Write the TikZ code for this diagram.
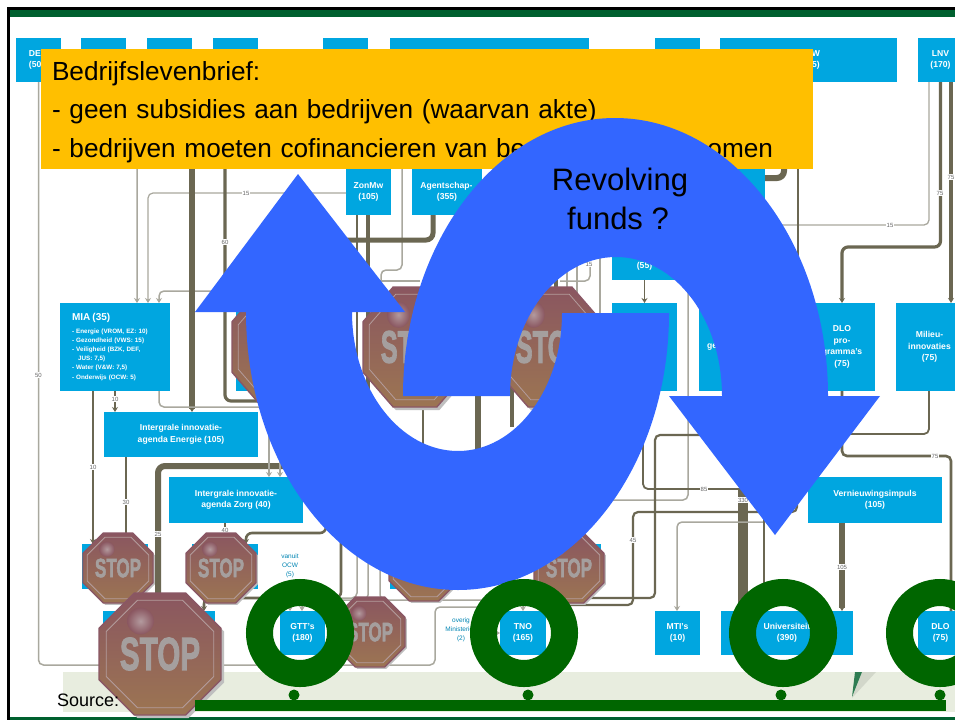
\documentclass[tikz,border=0pt]{standalone}
\usepackage{fontspec}
\setmainfont{Liberation Sans}
\newfontfamily\stopfont[BoldFeatures={FakeBold=2.5}]{Liberation Sans}
\usetikzlibrary{arrows.meta}
\definecolor{cBox}{HTML}{00A6E0}
\definecolor{cDark}{HTML}{6B6752}
\definecolor{cPale}{HTML}{A9A89E}
\definecolor{cOrange}{HTML}{FFBF00}
\definecolor{cBlue}{HTML}{3366FF}
\definecolor{cRing}{HTML}{006600}
\definecolor{cBar}{HTML}{00602F}
\definecolor{cStrip}{HTML}{E8EDDF}
\definecolor{cStopTop}{HTML}{8A5660}
\definecolor{cStopMid}{HTML}{95615A}
\definecolor{cStopLow}{HTML}{9C7552}
\definecolor{cStopRim}{HTML}{8A5765}
\definecolor{cStopLine}{HTML}{B39C9C}
\definecolor{cStopText}{HTML}{A59F9E}
\definecolor{cStopSpot}{HTML}{B39A9E}
\tikzset{
  cbox/.style={fill=cBox,text=white,font=\fontsize{8.6}{11.5}\selectfont\bfseries,align=center,inner sep=0pt,outer sep=0pt,anchor=north west},
  cLite/.style={draw=cPale,line width=1.5pt,rounded corners=5pt},
  cThin/.style={draw=cDark,line width=1.8pt,rounded corners=5pt},
  cMed/.style={draw=cDark,line width=3.2pt,rounded corners=6pt},
  cThick/.style={draw=cDark,line width=5.5pt,rounded corners=7pt},
  cHuge/.style={draw=cDark,line width=10pt},
  arr/.style={-{Stealth[length=5pt,width=6pt]}},
  lbl/.style={font=\fontsize{6}{7}\selectfont,text=black!60,fill=white,inner sep=.7pt},
  note/.style={font=\fontsize{6.5}{9}\selectfont,text=cBox!80!black,align=center,inner sep=0pt},
  ringmark/.style={circle,draw=cRing,line width=27pt,minimum size=81pt,inner sep=0pt},
  bump/.style={circle,fill=cRing,minimum size=11pt,inner sep=0pt},
  big/.style={font=\fontsize{31}{39}\selectfont,align=center,text=black,inner sep=0pt},
}
\def\octo{(-50,-21)--(-21,-50)--(21,-50)--(50,-21)--(50,21)--(21,50)--(-21,50)--(-50,21)--cycle}
\newcommand{\stopsign}[5]{%
  \begin{scope}[shift={(#2,#3)},xscale=#4/100,yscale=#5/100]
    \fill[black!25,shift={(2.5,2.5)}] \octo;
    \shade[top color=cStopTop,middle color=cStopMid,bottom color=cStopLow] \octo;
    \draw[cStopRim,line width=1.4pt] \octo;
    \draw[cStopLine,line width=.8pt,scale=.88] \octo;
    \shade[inner color=cStopSpot,outer color=cStopTop] (-16,-27) circle [radius=11];
    \node[transform shape,xscale=.64,inner sep=0pt,text=cStopText,font=\fontsize{38}{38}\selectfont\stopfont\bfseries] (#1) at (0,0) {STOP};
  \end{scope}}
\begin{document}
\begin{tikzpicture}[x=1pt,y=-1pt]
\useasboundingbox (0,0) rectangle (955,720);
\clip (0,0) rectangle (955,720);
\fill[white] (0,0) rectangle (955,720);
% slide frame
\fill[black] (7,7) rectangle (955,10);
\fill[black] (7,7) rectangle (10,720);
\fill[cBar] (10,10) rectangle (955,17);
\fill[cBar] (10,717) rectangle (955,720);
\fill[cStrip] (63,672) rectangle (955,712);
\fill[cBar!80!cStrip] (855,672) -- (862,672) -- (852,697) -- cycle;
\fill[cStrip!70!black,opacity=.3] (862,672) -- (876,672) -- (852,698) -- cycle;
% boxes
\node[cbox,minimum width=45pt,minimum height=44pt,align=left,text width=45pt] (dez) at (16,38) {\hspace*{13pt}DE\\\hspace*{13pt}(50};
\node[cbox,minimum width=45pt,minimum height=44pt] (bb) at (81,38) {};
\node[cbox,minimum width=45pt,minimum height=44pt] (bc) at (147,38) {};
\node[cbox,minimum width=45pt,minimum height=44pt] (bd) at (213,38) {};
\node[cbox,minimum width=45pt,minimum height=44pt] (be) at (323,38) {};
\node[cbox,minimum width=199pt,minimum height=44pt] (bf) at (390,38) {};
\node[cbox,minimum width=45pt,minimum height=44pt] (bg) at (655,38) {};
\node[cbox,minimum width=177pt,minimum height=44pt] (bh) at (720,38) {};
\node[cbox,anchor=center,fill=none] (bhtext) at (816,60) {W\\5)};
\node[cbox,minimum width=45pt,minimum height=44pt] (lnv) at (918,38) {LNV\\(170)};
\node[cbox,minimum width=45pt,minimum height=46pt] (zon) at (346,169) {ZonMw\\(105)};
\node[cbox,minimum width=70pt,minimum height=46pt,text width=70pt,align=center] (agent) at (412,169) {\hspace*{-1pt}Agentschap-\\(355)};
\node[cbox,minimum width=65pt,minimum height=46pt] (bi) at (700,169) {};
\node[cbox,minimum width=65pt,minimum height=45pt] (bj) at (612,235) {\\\\(55)};
\node[cbox,minimum width=65pt,minimum height=88pt] (bk) at (612,303) {};
\node[cbox,minimum width=91pt,minimum height=88pt,align=left,text width=79pt,inner xsep=6pt] (bl) at (699,303) {\hspace*{2pt}ge};
\node[cbox,minimum width=66pt,minimum height=88pt] (dlo) at (809,303) {DLO\\pro-\\gramma's\\(75)};
\node[cbox,minimum width=67pt,minimum height=88pt] (mil) at (896,303) {Milieu-\\innovaties\\(75)};
\node[cbox,minimum width=110pt,minimum height=88pt,align=left,text width=98pt,inner xsep=6pt,font=\fontsize{6.3}{9.2}\selectfont\bfseries] (mia) at (60,303)
  {{\fontsize{10}{12}\selectfont\hspace*{6pt}MIA (35)}\\[3pt]
   \hspace*{6pt}- Energie (VROM, EZ: 10)\\
   \hspace*{6pt}- Gezondheid (VWS: 15)\\
   \hspace*{6pt}- Veiligheid (BZK, DEF,\\
   \hspace*{12pt}JUS: 7,5)\\
   \hspace*{6pt}- Water (V\&W: 7,5)\\
   \hspace*{6pt}- Onderwijs (OCW: 5)};
\node[cbox,minimum width=74pt,minimum height=88pt] (bn) at (236,303) {};
\node[cbox,minimum width=154pt,minimum height=45pt] (energie) at (104,412) {Intergrale innovatie-\\agenda Energie (105)};
\node[cbox,minimum width=134pt,minimum height=46pt] (zorg) at (169,477) {Intergrale innovatie-\\agenda Zorg (40)};
\node[cbox,minimum width=134pt,minimum height=46pt] (vern) at (808,477) {Vernieuwingsimpuls\\(105)};
\node[cbox,minimum width=66pt,minimum height=45pt] (ba) at (82,544) {};
\node[cbox,minimum width=66pt,minimum height=45pt] (bo) at (192,544) {};
\node[cbox,minimum width=65pt,minimum height=45pt] (bp) at (390,544) {};
\node[cbox,minimum width=66pt,minimum height=45pt] (bq) at (535,544) {};
\node[cbox,minimum width=112pt,minimum height=44pt] (br) at (103,611) {};
\node[cbox,minimum width=45pt,minimum height=44pt] (gtt) at (280,611) {GTT's\\(180)};
\node[cbox,minimum width=46pt,minimum height=44pt] (tno) at (500,611) {TNO\\(165)};
\node[cbox,minimum width=45pt,minimum height=44pt] (mti) at (655,611) {MTI's\\(10)};
\node[cbox,minimum width=132pt,minimum height=44pt,text width=132pt] (uni) at (721,611) {\makebox[132pt]{Universiteit}\\(390)};
\node[cbox,minimum width=45pt,minimum height=44pt] (dlob) at (918,611) {DLO\\(75)};
% connectors
\draw[cLite] (dez.south) -- (38.5,665) -- (435,665) -- (435,607) -- (485,607) -- (485,633);
\draw[cLite,arr] (485,633) -- (tno.west);
\draw[cLite,arr] (bb.south) -- (137,120) -- (mia.north -| 137,0);
\draw[cLite,line width=1.2pt,arr] (zon.west |- 0,193) -- (148,193) -- (mia.north -| 148,0);
\draw[cLite,arr] (bf.south -| 402,0) -- (402,270) -- (381,270) -- (381,291) -- (159,291) -- (mia.north -| 159,0);
\draw[cLite] (357,281) -- (420,281);
\draw[cThick,arr] (bc.south -| 192,0) -- (energie.north -| 192,0);
\draw[cMed] (bd.south -| 225,0) -- (225,401) -- (366,401);
\draw[cThick,line width=5pt] (agent.south -| 433,0) -- (433,240) -- (330,240);
\draw[cThin] (zon.south -| 357,0) -- (357,420);
\draw[cMed] (zon.south -| 368,0) -- (368,420);
\draw[cThin] (423,300) -- (423,470);
\draw[cThick] (478,300) -- (478,470);
\draw[cMed,line width=4pt] (512,300) -- (512,427);
\draw[cMed,line width=4pt] (556,240) -- (556,300);
\draw[cLite] (567,240) -- (567,300);
\draw[cLite] (577,240) -- (577,300);
\draw[cLite] (600,240) -- (600,320);
\draw[cLite] (590,258) -- (590,281) -- (560,281);
\draw[cThin,arr] (bj.south) -- (bk.north);
\draw[cLite] (688,240) -- (688,500) -- (560,500);
\draw[cThin] (643,380) -- (643,489) -- (743,489);
\draw[cHuge] (743,489) -- (uni.north -| 743,0);
\draw[cThin,line width=2.2pt] (700,435) -- (655,435) -- (655,598) -- (540,598);
\draw[cThin,line width=2.2pt] (797,490) -- (797,512) -- (633,512) -- (633,605) -- (540,605);
\draw[cLite,arr] (765,522) -- (677,522) -- (mti.north -| 677,0);
\draw[cMed,line width=2.6pt] (764,510) -- (uni.north -| 764,0);
\draw[cThin,line width=2.6pt] (dlo.south) -- (842,456) -- (951,456) -- (dlob.north -| 951,0);
\draw[cThick,line width=6.5pt,arr] (vern.south -| 842,0) -- (uni.north -| 842,0);
\draw[cThin] (mil.south -| 929,0) -- (929,434) -- (820,434);
\draw[cLite,line width=1.3pt] (lnv.south -| 929,0) -- (929,225) -- (775,225);
\draw[cMed,arr] (lnv.south) -- (940.5,247) -- (842,247) -- (dlo.north);
\draw[cMed,arr] (lnv.south -| 951,0) -- (mil.north -| 951,0);
\draw[cThin] (bh.south -| 798,0) -- (798,300);
\draw[cThick,line width=6pt] (bh.south -| 784,0) -- (784,178) -- (765,178);
\draw[cThin,arr] (mia.south -| 93,0) -- (ba.north -| 93,0);
\draw[cThin,arr] (mia.south -| 115,0) -- (energie.north -| 115,0);
\draw[cThin] (energie.south -| 126,0) -- (ba.north -| 126,0);
\draw[cLite] (mia.south -| 159,0) -- (159,407) -- (300,407);
\draw[cThick,line width=6pt] (320,466) -- (158,466) -- (br.north -| 158,0);
\draw[cLite,arr] (269,430) -- (zorg.north -| 269,0);
\draw[cLite,arr] (280,440) -- (zorg.north -| 280,0);
\draw[cThin,arr] (zorg.south -| 225,0) -- (bo.north -| 225,0);
\draw[cMed,line width=2.6pt,arr] (326,526) -- (326,533) -- (246,533) -- (bo.north -| 246,0);
\draw[cMed,line width=2.6pt,arr] (341,535) -- (341,598) -- (204,598) -- (br.north -| 204,0);
\draw[cLite,arr] (357,540) -- (357,598) -- (302,598) -- (gtt.north -| 302,0);
\draw[cLite,arr] (368,540) -- (368,600) -- (290,600) -- (gtt.north -| 290,0);
\draw[cLite,arr] (380,540) -- (380,600) -- (523,600) -- (tno.north -| 523,0);
% edge labels
\node[lbl] (la) at (38.5,375) {50};
\node[lbl] (lb) at (246,193) {15};
\node[lbl] (lc) at (225,242) {60};
\node[lbl] (ld) at (115,399) {10};
\node[lbl] (le) at (93,467) {10};
\node[lbl] (lf) at (126,502) {30};
\node[lbl] (lg) at (158,534) {25};
\node[lbl] (lh) at (225,530) {40};
\node[lbl] (li) at (890,225) {15};
\node[lbl] (lj) at (940,193) {75};
\node[lbl] (lk) at (951,177) {75};
\node[lbl] (ll) at (935,456) {75};
\node[lbl] (lm) at (704,489) {85};
\node[lbl] (ln) at (743,500) {330};
\node[lbl] (lo) at (633,540) {45};
\node[lbl] (lp) at (842,567) {105};
\node[lbl] (lq) at (589,264) {15};
\node[note] (vanuit) at (290,566) {vanuit\\OCW\\(5)};
\node[note] (overig) at (461,630) {overig\\Ministeries\\(2)};
% stop signs
\stopsign{stA}{118}{568}{70}{70}
\stopsign{stB}{221}{568}{70}{70}
\stopsign{stC}{424}{566}{70}{70}
\stopsign{stD}{569}{568}{70}{70}
\stopsign{stE}{370}{632}{70}{70}
\stopsign{stF}{284}{347}{104}{120}
\stopsign{stG}{415}{347}{104}{120}
\stopsign{stH}{550}{347}{104}{120}
\stopsign{stI}{160}{654}{122}{122}
% orange note
\node[fill=cOrange,text=black,anchor=north west,minimum width=772pt,minimum height=120pt,inner xsep=11pt,inner ysep=0pt,outer sep=0pt,text width=750pt,align=left,font=\fontsize{26.2}{38.5}\selectfont] (brief) at (41,49) {\rule{0pt}{25pt}Bedrijfslevenbrief:\\- geen subsidies aan bedrijven (waarvan akte)\\\makebox[721pt][s]{- bedrijven moeten cofinancieren van be\hfill omen}};
% blue circular arrows
\fill[cBlue] (828,396) .. controls (828,242.5) and (732,118) .. (615,118)
  .. controls (498,118) and (403,242.5) .. (403,396) -- (510,396)
  .. controls (510,319) and (557,257) .. (616,257)
  .. controls (675,257) and (722,319) .. (722,396)
  -- (669,396) -- (775,535) -- (880,396) -- cycle;
\fill[cBlue] (246,312) .. controls (246,465.5) and (341,590) .. (458,590)
  .. controls (575,590) and (669,465.5) .. (669,313) -- (562,313)
  .. controls (562,390) and (515,451) .. (458,451)
  .. controls (400,451) and (352,389) .. (352,312)
  -- (405,312) -- (298,174) -- (195,312) -- cycle;
\node[big,anchor=base] (rev) at (620,190) {Revolving};
\node[big,anchor=base] (fun) at (618,229) {funds ?};
% rings and bar
\node[ringmark] (ringA) at (300,633) {};
\node[ringmark] (ringB) at (524,633) {};
\node[ringmark] (ringC) at (783,633) {};
\node[ringmark] (ringD) at (940,633) {};
\coordinate (barL) at (195,705.5);
\coordinate (barR) at (946,705.5);
\draw[cRing,line width=11pt] (barL) -- (barR);
\node[bump] (bmA) at (294,695) {};
\node[bump] (bmB) at (528,695) {};
\node[bump] (bmC) at (781,695) {};
\node[bump] (bmD) at (940,695) {};
\node[anchor=base west,inner sep=0pt,font=\fontsize{18}{20}\selectfont] (src) at (57,706) {Source:};
\end{tikzpicture}
\end{document}
